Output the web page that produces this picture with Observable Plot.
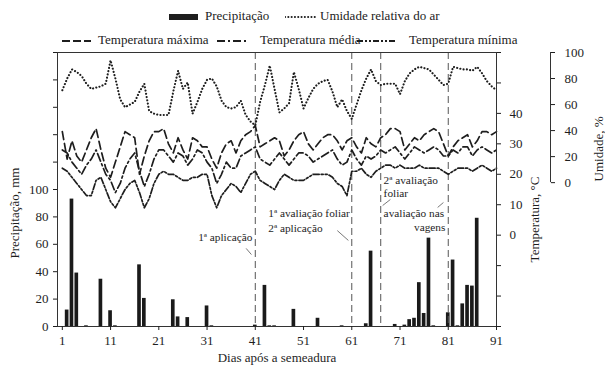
<!DOCTYPE html>
<html><head><meta charset="utf-8">
<script src="https://cdn.jsdelivr.net/npm/d3@7"></script>
<script src="https://cdn.jsdelivr.net/npm/@observablehq/plot@0.6"></script>
<style>
body{margin:0;background:#fff;}
#wrap{position:relative;width:605px;height:368px;font-family:"Liberation Serif","Times New Roman",serif;color:#222;}
.lg{position:absolute;font-size:13px;white-space:nowrap;line-height:14px;}
.sw{position:absolute;}
</style></head><body><div id="wrap"></div>
<script>
// ---- data ----
const days = d3.range(1, 92);
const precipDays = [2,3,4,6,9,11,12,17,18,24,25,27,31,32,41,43,44,45,49,54,59,64,65,70,72,73,74,75,76,77,78,81,82,83,84,85,86,87];
const precipMm   = [12,93,39,0.5,34.5,11.5,0.5,45,20.5,19.5,7,6.5,15,0.5,1,30,0.5,0.5,12.5,6,0.5,2,55,1.5,1,5,6,32,9.5,64.5,0.5,10,48.5,0.5,16.5,30,29.5,79];
const humidity = [71,80,87,85,82,76,72,73,74,76,94,80,64,58,60,62,70,76,55,53,52,52,52,70,86,72,77,53,62,72,
  79,80,74,63,58,57,58,63,52,47,44,62,75,90,72,54,57,61,85,72,57,65,72,76,78,79,70,58,64,55,
  49,60,71,80,87,78,75,76,76,76,68,78,84,87,89,88,87,83,79,75,76,89,88,87,87,86,89,84,78,74,71];
const tmax = [34,25,31,26,24,28,32,35,28,22,19,24,29,34,33,32,20,26,31,34,34,35,30,27,32,28,25,32,31,29,
  29,25,22,27,30,31,27,31,33,34,36,29,30,31,32,31,26,28,31,33,34,30,28,30,32,33,33,31,28,31,
  32,29,27,32,30,29,32,33,35,35,34,28,30,32,31,33,34,35,34,30,26,29,31,32,33,29,31,34,34,33,34];
const tmean = [28,27,24,22,20,23,25,28,24,20,18,14,17,22,25,27,21,16,20,25,28,28,26,24,27,26,23,25,28,27,
  24,22,17,20,24,22,22,26,27,28,29,25,24,23,25,27,25,23,25,27,27,26,24,25,26,27,28,25,23,24,
  28,25,23,26,25,26,28,27,28,29,27,25,27,29,28,27,28,29,28,26,26,28,27,29,29,26,28,29,28,27,28];
const tmin = [22,21,19,17,15,13,13,18,19,15,11,9,12,15,17,18,14,9,12,17,20,21,20,20,19,18,18,19,19,20,
  20,13,9,13,15,17,16,14,17,20,21,18,17,16,15,18,20,19,18,18,18,19,20,20,20,20,19,17,16,13,
  21,21,22,20,19,21,22,23,23,22,23,22,22,22,23,22,22,22,22,21,20,21,22,22,22,21,22,23,22,21,22];
const events = [41, 61, 67, 81];
const xTicks = [1,11,21,31,41,51,61,71,81,91];
const precipTicks = [0,20,40,60,80,100,120,140,160,180,200];
const tempTicks = [-30,-20,-10,0,10,20,30,40,50,60];
const humTicks = [0,20,40,60,80,100];
const notesStart = [
  {day:43.7, p:82.5, text:"1ª avaliação foliar"},
  {day:43.7, p:71.5, text:"2ª aplicação"},
  {day:67.6, p:106.6, text:"2ª avaliação"},
  {day:67.6, p:97, text:"foliar"},
  {day:67.6, p:82.5, text:"avaliação nas"}
];
const notesEnd = [
  {day:40.4, p:65, text:"1ª aplicação"},
  {day:80.4, p:72.3, text:"vagens"}
];
const leaders = [
  {x1:39.1, y1:57, x2:40.2, y2:52.5},
  {x1:58.0, y1:70, x2:60.3, y2:62.8},
  {x1:67.4, y1:88.3, x2:69.0, y2:92.7},
  {x1:78.8, y1:86.9, x2:80.0, y2:90.5}
];

// ---- scale helpers (temperature and humidity mapped onto the precipitation axis) ----
const tP = t => (t + 30) * 200 / 90;
const hP = h => 105 + h * 0.95;
const precip = precipDays.map((d, i) => ({day: d, mm: precipMm[i]}));
const rows = days.map((d, i) => ({day: d, hum: humidity[i], tmax: tmax[i], tmean: tmean[i], tmin: tmin[i]}));
const ink = "#1e1e1e";

const chart = Plot.plot({
  width: 605, height: 368,
  marginTop: 52, marginRight: 109, marginBottom: 42, marginLeft: 57,
  style: {fontFamily: "Liberation Serif, Times New Roman, serif", fontSize: "13px", color: ink, background: "transparent"},
  x: {domain: [0, 91]},
  y: {domain: [0, 200]},
  marks: [
    Plot.rectY(precip, {x1: d => d.day - 0.38, x2: d => d.day + 0.38, y: "mm", fill: "#1a1a1a"}),
    Plot.ruleX(events, {stroke: "#555", strokeDasharray: "7,4", strokeWidth: 1}),
    Plot.line(rows, {x: "day", y: d => hP(d.hum), stroke: ink, strokeWidth: 2.1, strokeDasharray: "0.1,3.2", strokeLinecap: "round"}),
    Plot.line(rows, {x: "day", y: d => tP(d.tmax), stroke: ink, strokeWidth: 1.7, strokeDasharray: "8,4"}),
    Plot.line(rows, {x: "day", y: d => tP(d.tmean), stroke: ink, strokeWidth: 1.7, strokeDasharray: "8,3,2,3"}),
    Plot.line(rows, {x: "day", y: d => tP(d.tmin), stroke: ink, strokeWidth: 1.7, strokeDasharray: "6,2,2,2,2,2"}),
    Plot.frame({stroke: "#333"}),
    Plot.axisX({ticks: xTicks, tickSize: 4, tickPadding: 5, label: null, fontSize: 13}),
    Plot.axisY({anchor: "left", ticks: precipTicks, tickSize: 4, tickPadding: 5, label: null, fontSize: 13,
      tickFormat: d => d <= 100 ? d : ""}),
    Plot.axisY(tempTicks.map(tP), {anchor: "right", tickSize: 4, tickPadding: 9, label: null, fontSize: 13,
      tickFormat: p => { const t = Math.round(p * 90 / 200 - 30); return t >= 0 && t <= 40 ? t : ""; }}),
    Plot.axisY(humTicks.map(hP), {anchor: "right", dx: 54, tickSize: 4, tickPadding: 10, label: null, fontSize: 13,
      tickFormat: p => Math.round((p - 105) / 0.95)}),
    Plot.ruleX([91], {y1: hP(0), y2: hP(100), dx: 54, stroke: "#333"}),
    Plot.text(["Dias após a semeadura"], {frameAnchor: "bottom", dy: 35, fontSize: 13}),
    Plot.text(["Precipitação, mm"], {frameAnchor: "left", rotate: -90, dx: -43, dy: 69, fontSize: 13}),
    Plot.text(["Temperatura, °C"], {frameAnchor: "right", rotate: -90, dx: 38, dy: -13, fontSize: 13}),
    Plot.text(["Umidade, %"], {frameAnchor: "right", rotate: -90, dx: 102, dy: -73, fontSize: 13}),
    Plot.text(notesStart, {x: "day", y: "p", text: "text", textAnchor: "start", fontSize: 11.3, fill: ink}),
    Plot.text(notesEnd, {x: "day", y: "p", text: "text", textAnchor: "end", fontSize: 11.3, fill: ink}),
    Plot.link(leaders, {x1: "x1", y1: "y1", x2: "x2", y2: "y2", stroke: "#555", strokeWidth: 0.8})
  ]
});
const wrap = document.getElementById("wrap");
wrap.appendChild(chart);
chart.style.position = "absolute"; chart.style.left = "0"; chart.style.top = "0";

// ---- legend (HTML) ----
function sample(x, y, w, dash, sw, cap) {
  const s = document.createElementNS("http://www.w3.org/2000/svg", "svg");
  s.setAttribute("class", "sw"); s.setAttribute("width", w); s.setAttribute("height", 8);
  s.style.left = x + "px"; s.style.top = (y - 4) + "px";
  const l = document.createElementNS("http://www.w3.org/2000/svg", "line");
  l.setAttribute("x1", 0); l.setAttribute("x2", w); l.setAttribute("y1", 4); l.setAttribute("y2", 4);
  l.setAttribute("stroke", ink); l.setAttribute("stroke-width", sw);
  if (dash) l.setAttribute("stroke-dasharray", dash);
  if (cap) l.setAttribute("stroke-linecap", cap);
  s.appendChild(l); wrap.appendChild(s);
}
function label(x, y, t) {
  const d = document.createElement("div"); d.className = "lg"; d.textContent = t;
  d.style.left = x + "px"; d.style.top = (y - 8) + "px"; wrap.appendChild(d);
}
sample(169, 17, 29, null, 6);
label(205, 17, "Precipitação");
sample(285, 17, 32, "0.1,3.2", 2, "round");
label(320, 17, "Umidade relativa do ar");
sample(62, 41, 29, "8,3", 1.8);
label(98, 41, "Temperatura máxima");
sample(217, 41, 31, "8,3,2,3", 1.8);
label(260, 41, "Temperatura média");
sample(357, 41, 38, "6,2,2,2,2,2", 1.8);
label(409, 41, "Temperatura mínima");
</script></body></html>
